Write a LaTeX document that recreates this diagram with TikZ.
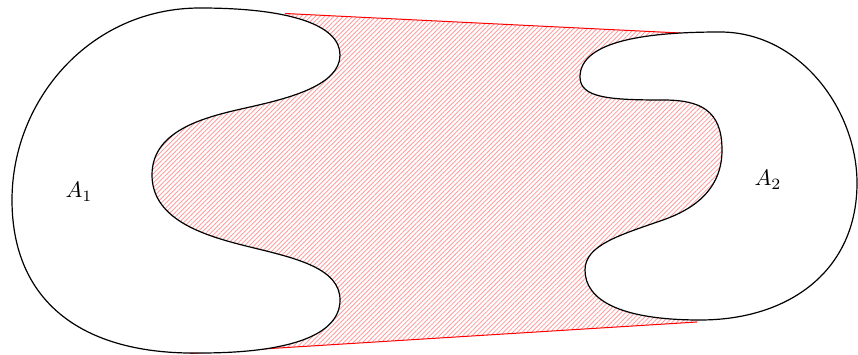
\documentclass[tikz,border=0pt]{standalone}
\usetikzlibrary{patterns.meta}
\begin{document}
\begin{tikzpicture}[x=1pt,y=-1pt,
  blob/.style={draw=black,line width=1.2pt,fill=white},
  hull/.style={draw=none,pattern={Lines[angle=45,distance=3.3pt,line width=0.85pt]},pattern color=red!38},
  tangent/.style={draw=red,line width=1pt},
  lbl/.style={scale=2.25,transform shape}]
\useasboundingbox (0,0) rectangle (858,355);
% hatched hull (interior points lie inside the blobs)
\path[hull] (287,14) -- (677,33) -- (760,183) -- (697,322) -- (190,353) -- (60,180) -- cycle;
% tangent lines
\coordinate (t1) at (285,13.5);
\coordinate (t2) at (680,33);
\coordinate (b1) at (190,353.5);
\coordinate (b2) at (697,322);
\draw[tangent] (t1) -- (t2);
\draw[tangent] (b1) -- (b2);
% A1
\draw[blob] (200,8)
  .. controls (290,8) and (340,25) .. (340,55)
  .. controls (340,85) and (290,98) .. (250,107)
  .. controls (210,116) and (152,128) .. (152,175)
  .. controls (152,222) and (210,237) .. (250,247)
  .. controls (295,258) and (340,268) .. (340,300)
  .. controls (340,335) and (290,353) .. (200,353)
  .. controls (80,355) and (12,300) .. (12,200)
  .. controls (12,100) and (90,8) .. (200,8) -- cycle;
% A2
\draw[blob] (720,32)
  .. controls (800,32) and (857,110) .. (857,183)
  .. controls (857,270) and (790,320) .. (700,320)
  .. controls (620,320) and (585,300) .. (585,270)
  .. controls (585,245) and (620,235) .. (663,220)
  .. controls (700,207) and (722,185) .. (722,150)
  .. controls (722,110) and (700,100) .. (663,100)
  .. controls (610,100) and (580,98) .. (580,77)
  .. controls (580,40) and (650,32) .. (720,32) -- cycle;
\node[lbl] (a1) at (79,192) {$A_1$};
\node[lbl] (a2) at (768,180) {$A_2$};
\end{tikzpicture}
\end{document}
